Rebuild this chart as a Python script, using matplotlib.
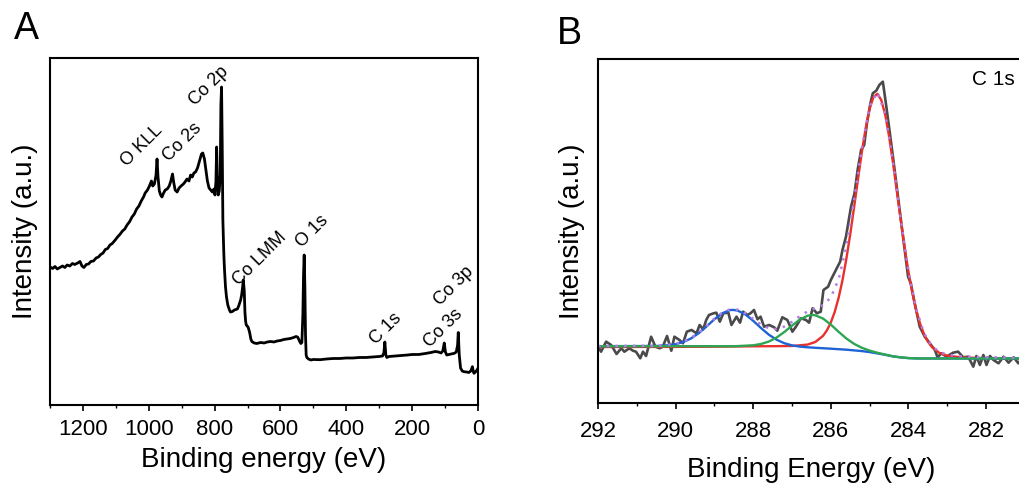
import matplotlib
matplotlib.use("Agg")
import matplotlib.pyplot as plt
from matplotlib.ticker import MultipleLocator

plt.rcParams['font.family'] = ['Liberation Sans', 'DejaVu Sans']

# ---- Panel A: XPS survey (binding energy in eV, intensity in a.u.)
survey_be = [1300, 1292, 1285, 1278, 1270, 1262, 1255, 1248, 1240, 1232, 1225, 1216, 1209, 1203,
             1197, 1190, 1183, 1176, 1168, 1160, 1153, 1146, 1139, 1132, 1125, 1118, 1111, 1102,
             1095, 1088, 1080, 1073, 1066, 1058, 1051, 1044, 1037, 1030, 1023, 1016, 1011, 1004,
             998, 992, 988, 983, 978, 975, 972, 968, 964, 960, 955, 950, 944, 938, 933, 928, 924,
             920, 914, 908, 902, 895, 890, 884, 878, 873, 868, 863, 858, 852, 846, 840, 836, 831,
             827, 822, 817, 812, 807, 802, 799, 796, 794, 792, 789, 786, 783, 781, 779, 777, 775,
             772, 770, 767, 764, 760, 755, 752, 746, 740, 735, 731, 727, 724, 721, 718, 715, 713,
             710, 708, 706, 704, 701, 698, 694, 690, 687, 680, 672, 660, 650, 640, 630, 620, 610,
             600, 590, 580, 570, 560, 553, 548, 545, 541, 538, 535, 532, 530, 528, 526, 524, 522,
             520, 515, 508, 500, 480, 460, 440, 420, 400, 380, 360, 340, 320, 300, 290, 286, 283,
             280, 277, 270, 250, 230, 214, 200, 180, 160, 143, 130, 120, 112.5, 107, 102.5, 99,
             95, 88, 80, 72, 66, 62, 60, 57, 53, 48, 42.5, 35, 28, 22, 17, 14, 12, 8, 4, 0]
survey_int = [138, 136.5, 138.5, 136, 137.5, 139, 137.5, 140, 139, 141.5, 140.5, 142, 143.5, 139,
              137.5, 140.5, 141, 143.5, 144, 147, 148, 150.5, 152, 155.5, 156.5, 160, 161.5, 165,
              168, 170.5, 174, 176, 180, 183.5, 188, 191, 196, 199, 204, 208, 212, 215,
              219, 224, 219, 221, 230, 246, 228, 214, 210, 208, 212, 215, 216, 219, 224, 231, 222,
              215, 213, 217, 219, 221, 223, 226, 224, 230, 228, 232, 233, 237, 244, 251, 252, 246,
              236, 224, 217, 215, 213, 216, 210, 224, 258, 230, 210, 214, 230, 300, 318, 260, 185,
              150, 135, 118, 108, 100, 95, 93, 93.5, 95, 95.5, 96, 99, 102, 105, 110, 118, 125,
              114, 93, 84, 80, 79, 77.5, 73, 66, 63.5, 62, 61.5, 62.5, 62, 63, 63.5, 63, 64,
              64.5, 65.5, 66, 66.5, 67.5, 68.5, 68, 66, 63, 61.5, 62.5, 90, 130, 150, 120, 70, 50,
              47.5, 46, 45, 45.5, 45.3, 46, 46.5, 46.5, 47, 47, 47.5, 47.5, 48, 48.5, 49, 52, 63,
              50, 47.5, 48.5, 49, 49.5, 50, 50.5, 50.5, 51.5, 52.5, 53.5, 53, 52, 54, 62, 53,
              50, 50.5, 51, 51.7, 53, 60, 72.5, 50, 37, 34, 33.3, 33, 32.5, 34, 38.3, 33, 31.7, 33, 34.5, 36.7]

peak_names = ['O KLL', 'Co 2s', 'Co 2p', 'Co LMM', 'O 1s', 'C 1s', 'Co 3s', 'Co 3p']
peak_label_be = [1021, 899, 818, 664, 502, 281, 106, 73]
peak_label_int = [259, 263, 319, 146, 174, 76, 77, 119]

# ---- Panel B: C 1s high resolution
c1s_be = [292.0, 291.97, 291.92, 291.79, 291.66, 291.52, 291.40, 291.32, 291.19, 291.10, 291.02,
          290.91, 290.84, 290.76, 290.63, 290.52, 290.41, 290.33, 290.22, 290.11, 290.03, 289.90,
          289.81, 289.71, 289.59, 289.46, 289.38, 289.29, 289.21, 289.14, 289.02, 288.95, 288.86,
          288.77, 288.64, 288.56, 288.43, 288.34, 288.26, 288.15, 288.07, 287.98, 287.89, 287.81,
          287.72, 287.59, 287.46, 287.38, 287.25, 287.12, 286.99, 286.90, 286.77, 286.64, 286.56,
          286.47, 286.36, 286.26, 286.19, 286.07, 286.00, 285.87, 285.76, 285.70, 285.61, 285.48,
          285.39, 285.31, 285.22, 285.14, 285.07, 284.98, 284.92, 284.83, 284.75, 284.66, 284.57,
          284.49, 284.40, 284.27, 284.14, 284.01, 283.94, 283.84, 283.71, 283.58, 283.45, 283.32,
          283.25, 283.15, 283.02, 282.85, 282.72, 282.59, 282.46, 282.33, 282.25, 282.16, 282.07,
          281.99, 281.90, 281.81, 281.68, 281.55, 281.42, 281.29, 281.17, 281.11, 281.0]
c1s_int = [55.5, 54.7, 51.3, 61.3, 58.0, 49.0, 54.7, 51.3, 54.7, 52.3, 51.3,
           44.7, 51.3, 47.0, 66.3, 56.3, 54.7, 56.3, 67.0, 52.3, 66.3, 63.0,
           59.7, 71.3, 73.0, 69.7, 78.0, 73.7, 83.0, 88.0, 89.7, 90.3, 81.3,
           89.7, 90.3, 78.0, 86.3, 80.3, 91.3, 88.0, 89.7, 93.0, 83.7, 86.3,
           76.3, 78.0, 75.7, 72.3, 85.7, 83.0, 71.3, 76.3, 84.7, 83.0, 80.3,
           94.7, 89.7, 91.3, 113.0, 116.3, 123.0, 133.0, 141.3, 153.0, 166.3, 196.3,
           209.7, 233.0, 253.0, 258.0, 279.7, 299.7, 309.7, 312.3, 318.0, 321.3, 296.3,
           273.0, 246.3, 206.3, 166.3, 126.3, 119.7, 99.7, 76.3, 66.3, 59.7, 53.0,
           45.7, 49.7, 46.3, 50.3, 51.3, 45.7, 46.3, 36.3, 47.0, 38.0, 48.0,
           38.0, 47.0, 43.0, 39.7, 46.3, 40.3, 45.7, 39.7, 43.0, 41.0]

# fitted components (background included)
red_be = [292.0, 290.0, 289.0, 288.0, 287.5, 287.0, 286.6, 286.4, 286.2, 286.1, 286.0, 285.9,
          285.8, 285.7, 285.6, 285.5, 285.4, 285.3, 285.2, 285.1, 285.0, 284.9, 284.8, 284.7,
          284.6, 284.5, 284.4, 284.3, 284.2, 284.1, 284.0, 283.9, 283.8, 283.7, 283.6, 283.5,
          283.4, 283.2, 283.0, 282.6, 282.0, 281.0]
red_int = [56.0, 56.1, 56.3, 56.7, 56.8, 57.0, 58.4, 61.0, 67.2, 72.7, 80.5, 91.1,
           105.1, 122.7, 144.2, 168.8, 195.9, 223.9, 251.1, 275.4, 294.4, 306.1, 309.1, 302.9,
           288.3, 266.8, 240.5, 212.0, 183.2, 155.8, 131.2, 110.1, 92.8, 79.2, 68.9, 61.4,
           56.1, 50.0, 47.3, 45.5, 44.8, 44.2]

blue_be = [292.0, 290.5, 290.2, 290.0, 289.8, 289.6, 289.4, 289.2, 289.0, 288.8, 288.6, 288.52,
           288.4, 288.2, 288.0, 287.8, 287.6, 287.4, 287.2, 287.0, 286.8, 286.6, 286.4, 286.0,
           285.6, 285.2, 285.0, 284.8, 284.6, 284.4, 284.2, 284.0, 283.8, 283.6, 281.0]
blue_int = [56.8, 57.0, 57.7, 58.8, 61.0, 64.6, 69.9, 76.6, 83.7, 89.6, 92.9, 93.1,
            92.4, 88.5, 82.2, 75.0, 68.4, 63.3, 59.8, 57.6, 56.4, 55.7, 55.2, 54.3,
            53.3, 51.9, 50.9, 49.6, 48.2, 46.6, 45.6, 44.9, 44.6, 44.5, 44.5]

green_be = [292.0, 289.0, 288.5, 288.0, 287.8, 287.6, 287.4, 287.2, 287.0, 286.8, 286.6, 286.46,
            286.4, 286.2, 286.0, 285.8, 285.6, 285.4, 285.2, 285.0, 284.8, 284.6, 284.4, 284.2,
            284.0, 283.8, 283.6, 281.0]
green_int = [56.8, 56.8, 56.7, 57.7, 59.0, 61.4, 65.4, 70.9, 77.4, 83.4, 87.3, 88.0,
             87.7, 84.4, 78.4, 71.2, 64.5, 59.1, 55.2, 52.4, 50.2, 48.4, 46.7, 45.6,
             44.9, 44.6, 44.5, 44.5]

env_be = [292.0, 290.5, 290.2, 290.0, 289.8, 289.6, 289.4, 289.2, 289.0, 288.8, 288.6, 288.4,
          288.2, 288.0, 287.8, 287.6, 287.4, 287.2, 287.0, 286.8, 286.6, 286.4, 286.2, 286.0,
          285.8, 285.6, 285.4, 285.2, 285.0, 284.8, 284.6, 284.4, 284.2, 284.0, 283.8, 283.6,
          283.4, 283.2, 283.0, 282.6, 282.0, 281.0]
env_int = [57.0, 57.3, 58.1, 59.2, 61.5, 65.1, 70.4, 77.2, 84.3, 90.3, 93.6, 93.3,
           89.7, 84.2, 78.5, 74.6, 73.9, 76.4, 81.2, 86.8, 91.6, 94.7, 97.9, 105.6,
           123.5, 156.4, 203.3, 255.4, 296.9, 310.7, 289.5, 241.5, 184.2, 132.2, 93.8, 69.9,
           57.1, 51.0, 48.3, 46.5, 45.8, 45.2]

fig = plt.figure(figsize=(10.19, 4.87), dpi=100)

# Panel A
ax1 = fig.add_axes([0.0491, 0.1684, 0.4200, 0.7125])
ax1.plot(survey_be, survey_int, color='black', lw=2.0)
for name, x, y in zip(peak_names, peak_label_be, peak_label_int):
    ax1.text(x, y, name, rotation=45, ha='center', va='center', fontsize=13)
ax1.set_xlim(1300, 0)
ax1.set_ylim(0, 347)
ax1.xaxis.set_major_locator(MultipleLocator(200))
ax1.xaxis.set_minor_locator(MultipleLocator(100))
ax1.set_yticks([])
ax1.set_xlabel('Binding energy (eV)', fontsize=20, labelpad=5)
ax1.set_ylabel('Intensity (a.u.)', fontsize=20)
ax1.yaxis.set_label_coords(-0.027, 0.5)
fig.text(0.026, 0.94, 'A', fontsize=27, ha='center', va='center')

# Panel B
ax2 = fig.add_axes([0.5868, 0.1725, 0.4190, 0.7064])
ax2.plot(c1s_be, c1s_int, color='#4a4a4a', lw=1.9)
ax2.plot(red_be, red_int, color='#e8302c', lw=1.7)
ax2.plot(blue_be, blue_int, color='#1f62d6', lw=1.7)
ax2.plot(green_be, green_int, color='#2ea553', lw=1.7)
ax2.plot(env_be, env_int, color='#b57ee6', lw=1.8, ls=(0, (1, 2.5)))
ax2.text(0.927, 0.939, 'C 1s', transform=ax2.transAxes, fontsize=15, ha='center', va='center')
ax2.set_xlim(292, 281)
ax2.set_ylim(0, 344)
ax2.xaxis.set_major_locator(MultipleLocator(2))
ax2.xaxis.set_minor_locator(MultipleLocator(1))
ax2.set_yticks([])
ax2.set_xlabel('Binding Energy (eV)', fontsize=20, labelpad=11)
ax2.set_ylabel('Intensity (a.u.)', fontsize=20)
ax2.yaxis.set_label_coords(-0.031, 0.5)
fig.text(0.559, 0.93, 'B', fontsize=27, ha='center', va='center')

for ax in (ax1, ax2):
    for sp in ax.spines.values():
        sp.set_linewidth(1.5)
    ax.tick_params(axis='x', which='major', direction='out', length=4, width=1.2,
                   labelsize=16, pad=6)
    ax.tick_params(axis='x', which='minor', direction='out', length=2.5, width=1.0)
ax2.tick_params(axis='x', which='major', pad=9)

fig.savefig('out.png', dpi=100)
